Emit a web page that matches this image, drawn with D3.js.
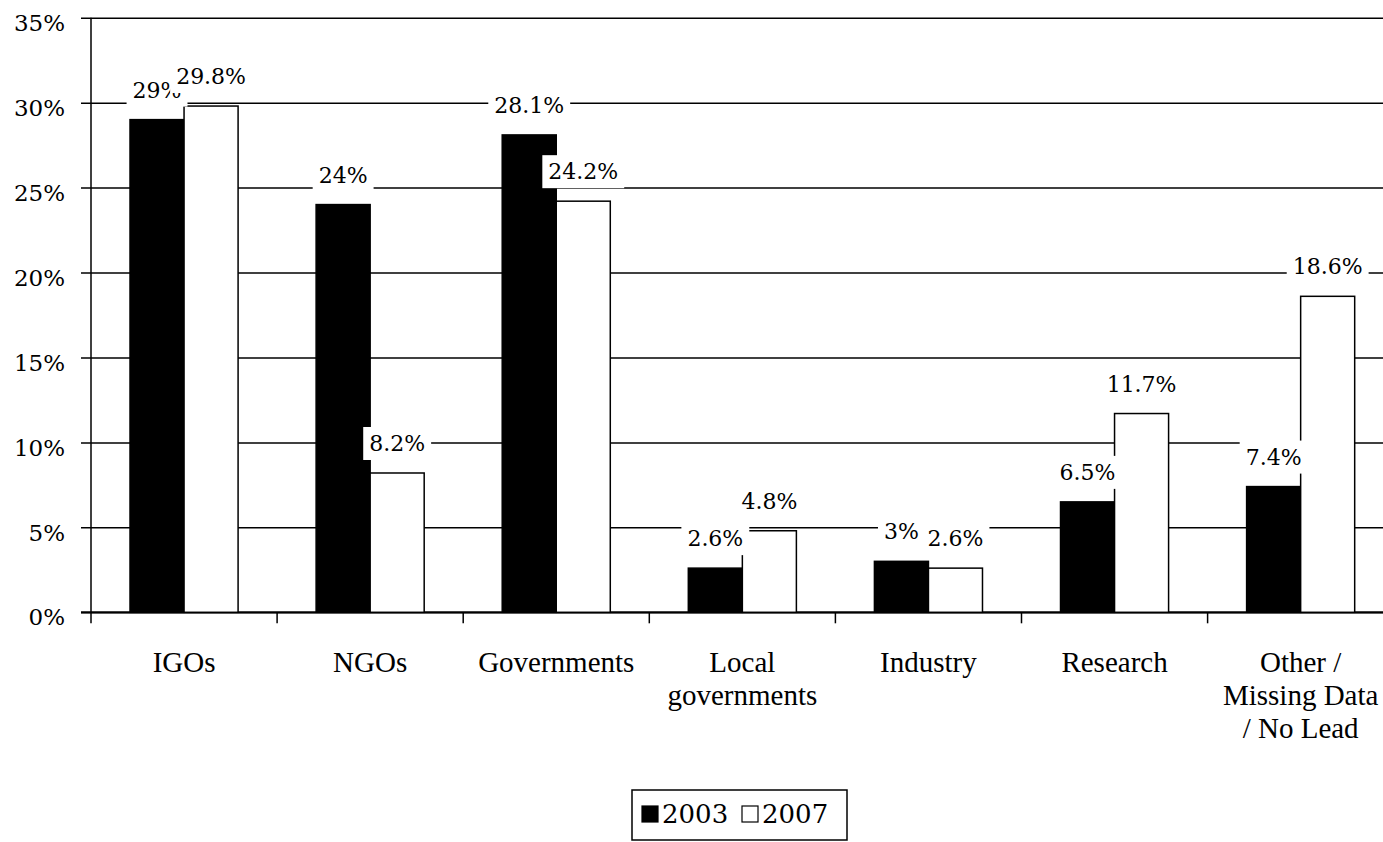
<!DOCTYPE html>
<html>
<head>
<meta charset="utf-8">
<script src="https://cdn.jsdelivr.net/npm/d3@7"></script>
<style>
  body { margin: 0; background: #fff; }
  svg { display: block; }
  .num { font-family: "DejaVu Serif", Georgia, serif; }
  .cat { font-family: "Liberation Serif", "Times New Roman", serif; }
</style>
</head>
<body>
<svg width="1383" height="842"></svg>
<script>
const categories = ['IGOs', 'NGOs', 'Governments', 'Local\ngovernments', 'Industry', 'Research', 'Other /\nMissing Data\n/ No Lead'];
const series = ['2003', '2007'];
const values2003 = [29, 24, 28.1, 2.6, 3, 6.5, 7.4];
const values2007 = [29.8, 8.2, 24.2, 4.8, 2.6, 11.7, 18.6];
const labels2003 = ['29%', '24%', '28.1%', '2.6%', '3%', '6.5%', '7.4%'];
const labels2007 = ['29.8%', '8.2%', '24.2%', '4.8%', '2.6%', '11.7%', '18.6%'];
const yTicks = [0, 5, 10, 15, 20, 25, 30, 35];

const svg = d3.select('svg');

const margin = { top: 17.7, left: 91 };
const step = 186.1;
const innerWidth = step * categories.length;
const innerHeight = 612.3 - margin.top;

const g = svg.append('g')
    .attr('transform', `translate(${margin.left},${margin.top})`);

const xScale = d3.scaleBand()
    .domain(categories)
    .range([0, innerWidth])
    .padding(0);

const xSub = d3.scaleBand()
    .domain(series)
    .range([0, xScale.bandwidth()])
    .paddingInner(0)
    .paddingOuter(0.722);

const yScale = d3.scaleLinear()
    .domain([0, 35])
    .range([innerHeight, 0]);

// y axis + gridlines
const yAxisGroup = g.append('g')
    .call(d3.axisLeft(yScale).tickValues(yTicks).tickSize(0).tickFormat(d => d + '%'));
yAxisGroup.select('.domain').remove();
yAxisGroup.selectAll('.tick line')
    .attr('x1', -10)
    .attr('x2', innerWidth)
    .attr('stroke', '#000')
    .attr('stroke-width', 1.5);
yAxisGroup.selectAll('.tick text')
    .attr('class', 'num')
    .attr('x', -26)
    .attr('dy', '0.55em')
    .attr('fill', '#000')
    .style('font-size', '23px');

g.append('line')
    .attr('x1', 0).attr('x2', 0)
    .attr('y1', 0).attr('y2', innerHeight)
    .attr('stroke', '#000')
    .attr('stroke-width', 1.5);

// x axis
const xAxisGroup = g.append('g')
    .attr('transform', `translate(0,${innerHeight})`);
xAxisGroup.append('line')
    .attr('x1', -10).attr('x2', innerWidth)
    .attr('stroke', '#000')
    .attr('stroke-width', 2);
xAxisGroup.selectAll('line.tick')
    .data(categories)
    .enter()
    .append('line')
    .attr('class', 'tick')
    .attr('x1', d => xScale(d)).attr('x2', d => xScale(d))
    .attr('y1', 0).attr('y2', 11)
    .attr('stroke', '#000')
    .attr('stroke-width', 1.5);

const catText = xAxisGroup.selectAll('text.cat')
    .data(categories)
    .enter()
    .append('text')
    .attr('class', 'cat')
    .attr('text-anchor', 'middle')
    .attr('fill', '#000')
    .style('font-size', '29px')
    .attr('transform', d => `translate(${xScale(d) + xScale.bandwidth() / 2},60)`);
catText.selectAll('tspan')
    .data(d => d.split('\n'))
    .enter()
    .append('tspan')
    .attr('x', 0)
    .attr('y', (d, i) => i * 33)
    .text(d => d);

// bars
const rows = categories.map((c, i) => ({
    cat: c,
    items: [
        { s: '2003', v: values2003[i], label: labels2003[i] },
        { s: '2007', v: values2007[i], label: labels2007[i] }
    ]
}));

const groups = g.selectAll('g.cat-group')
    .data(rows)
    .enter()
    .append('g')
    .attr('class', 'cat-group')
    .attr('transform', d => `translate(${xScale(d.cat)},0)`);

groups.selectAll('rect')
    .data(d => d.items)
    .enter()
    .append('rect')
    .attr('x', d => xSub(d.s))
    .attr('y', d => yScale(d.v))
    .attr('width', xSub.bandwidth())
    .attr('height', d => innerHeight - yScale(d.v))
    .attr('fill', d => d.s === '2003' ? '#000' : '#fff')
    .attr('stroke', '#000')
    .attr('stroke-width', 1.5);

// data labels with white boxes
rows.forEach(r => {
    r.items.forEach(d => {
        const lg = g.append('g')
            .attr('transform', `translate(${xScale(r.cat) + xSub(d.s) + xSub.bandwidth() / 2},${yScale(d.v) - 22})`);
        const box = lg.append('rect').attr('fill', '#fff');
        const t = lg.append('text')
            .attr('class', 'num')
            .attr('text-anchor', 'middle')
            .attr('fill', '#000')
            .style('font-size', '22px')
            .text(d.label);
        const bb = t.node().getBBox();
        box.attr('x', bb.x - 6)
            .attr('y', bb.y - 4)
            .attr('width', bb.width + 12)
            .attr('height', bb.height + 8);
    });
});

// legend
const legend = svg.append('g').attr('transform', 'translate(632,790)');
legend.append('rect')
    .attr('width', 215)
    .attr('height', 50)
    .attr('fill', '#fff')
    .attr('stroke', '#000')
    .attr('stroke-width', 1.5);
const legItems = legend.selectAll('g.item')
    .data(series)
    .enter()
    .append('g')
    .attr('class', 'item')
    .attr('transform', (d, i) => `translate(${10 + i * 100},16)`);
legItems.append('rect')
    .attr('width', 16)
    .attr('height', 16)
    .attr('fill', d => d === '2003' ? '#000' : '#fff')
    .attr('stroke', '#000')
    .attr('stroke-width', 1.2);
legItems.append('text')
    .attr('class', 'num')
    .attr('x', 20)
    .attr('y', 17)
    .attr('fill', '#000')
    .style('font-size', '26px')
    .text(d => d);
</script>
</body>
</html>
